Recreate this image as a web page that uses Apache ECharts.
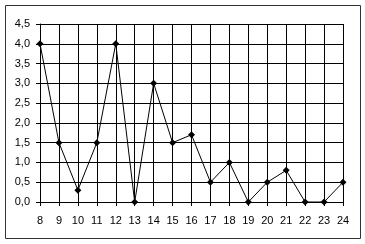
<!DOCTYPE html>
<html><head><meta charset="utf-8">
<script src="https://cdn.jsdelivr.net/npm/echarts@6/dist/echarts.min.js"></script>
<style>html,body{margin:0;padding:0;background:#fff}#c{width:365px;height:244px}</style>
</head><body><div id="c"></div>
<script>
const categories = ['8','9','10','11','12','13','14','15','16','17','18','19','20','21','22','23','24'];
const values = [4.0,1.5,0.3,1.5,4.0,0,3.0,1.5,1.7,0.5,1.0,0,0.5,0.8,0,0,0.5];
const chart = echarts.init(document.getElementById('c'), null, {renderer:'canvas'});
const font = {fontFamily:'Liberation Sans', fontSize:11, color:'#000'};
chart.setOption({
  animation:false,
  backgroundColor:'#fff',
  graphic:[{type:'rect', shape:{x:5.5,y:5.5,width:355,height:233}, style:{fill:'none', stroke:'#333', lineWidth:1}}],
  grid:{left:40, right:22, top:24, bottom:42},
  xAxis:{type:'category', data:categories, boundaryGap:false,
    axisLine:{lineStyle:{color:'#000', width:1}},
    axisTick:{show:true, length:4, alignWithLabel:true, lineStyle:{color:'#000'}},
    axisLabel:Object.assign({margin:13}, font),
    splitLine:{show:true, lineStyle:{color:'#000', width:1}}},
  yAxis:{type:'value', min:0, max:4.5, interval:0.5,
    axisLine:{show:true, lineStyle:{color:'#000', width:1}},
    axisTick:{show:true, length:4, lineStyle:{color:'#000'}},
    axisLabel:Object.assign({margin:10, formatter:v=>v.toFixed(1).replace('.',',')}, font),
    splitLine:{show:true, lineStyle:{color:'#000', width:1}}},
  series:[{type:'line', data:values, symbol:'diamond', symbolSize:7,
    lineStyle:{color:'#000', width:1}, itemStyle:{color:'#000'}}]
});
</script></body></html>
